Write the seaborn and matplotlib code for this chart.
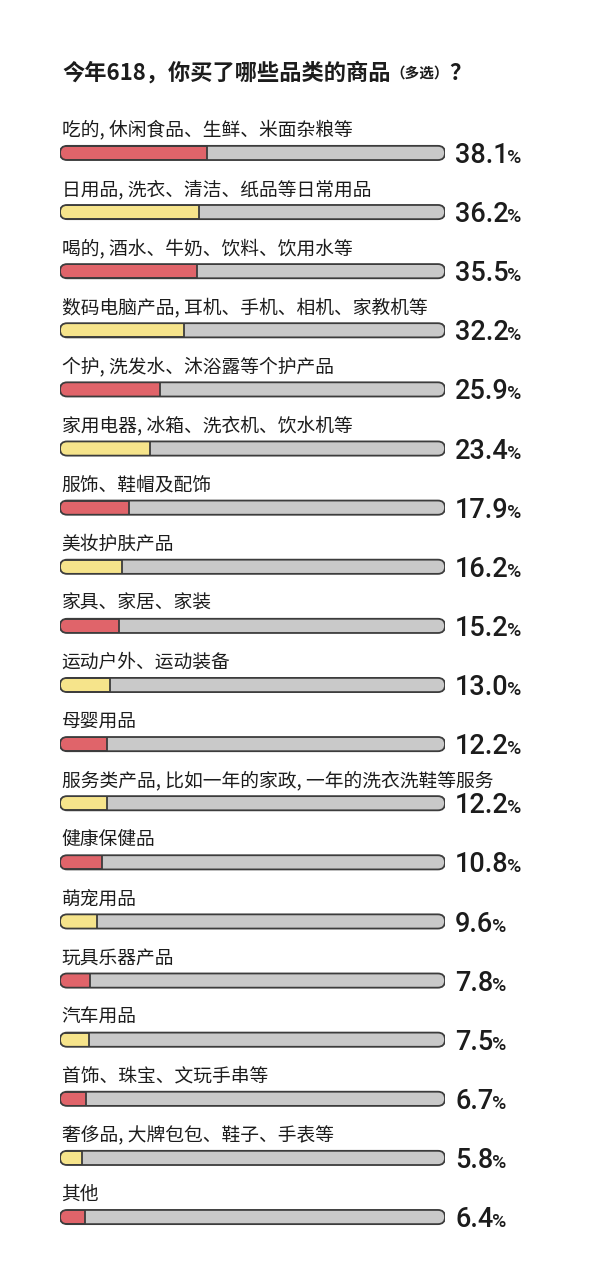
import matplotlib
matplotlib.use("Agg")
import matplotlib.pyplot as plt
from matplotlib.patches import FancyBboxPatch
import pandas as pd
import seaborn as sns

categories = [
    "吃的, 休闲食品、生鲜、米面杂粮等",
    "日用品, 洗衣、清洁、纸品等日常用品",
    "喝的, 酒水、牛奶、饮料、饮用水等",
    "数码电脑产品, 耳机、手机、相机、家教机等",
    "个护, 洗发水、沐浴露等个护产品",
    "家用电器, 冰箱、洗衣机、饮水机等",
    "服饰、鞋帽及配饰",
    "美妆护肤产品",
    "家具、家居、家装",
    "运动户外、运动装备",
    "母婴用品",
    "服务类产品, 比如一年的家政, 一年的洗衣洗鞋等服务",
    "健康保健品",
    "萌宠用品",
    "玩具乐器产品",
    "汽车用品",
    "首饰、珠宝、文玩手串等",
    "奢侈品, 大牌包包、鞋子、手表等",
    "其他",
]
shares = [38.1, 36.2, 35.5, 32.2, 25.9, 23.4, 17.9, 16.2, 15.2, 13.0,
          12.2, 12.2, 10.8, 9.6, 7.8, 7.5, 6.7, 5.8, 6.4]
tones = ["red", "yellow"] * 9 + ["red"]

RED = "#e0646a"
YELLOW = "#f6e48b"
GRAY = "#c9c9c9"
EDGE = "#3c3c3c"
INK = "#1c1c1c"

sns.set_theme(style="white")
plt.rcParams["font.family"] = ["Noto Sans CJK SC", "DejaVu Sans"]

df = pd.DataFrame({"category": categories, "share": shares, "tone": tones})
df["full"] = 100.0
n = len(df)

fig = plt.figure(figsize=(6, 12.8), dpi=100)
fig.patch.set_facecolor("white")
ax = fig.add_axes([0.1, 0.0261, 0.6417, 0.8775])

bar_h = 0.24
# grey track = 100%, coloured part = share
sns.barplot(data=df, x="full", y="category", orient="h", color=GRAY,
            width=bar_h, saturation=1, ax=ax)
tracks = list(ax.patches)
sns.barplot(data=df, x="share", y="category", hue="tone",
            palette={"red": RED, "yellow": YELLOW}, orient="h",
            width=bar_h, dodge=False, legend=False, saturation=1, ax=ax)
fills = [p for p in ax.patches if p not in tracks and p.get_width() > 0]

ax.set_xlim(0, 100)
ax.set_ylim(n - 0.5, -0.5)
ax.axis("off")

# pixel ratio so the ends come out as half circles
(px0, py0), (px1, py1) = ax.transData.transform([(0, 0), (1, 1)])
aspect = abs(px1 - px0) / abs(py1 - py0)

shapes = {}
for rect in tracks:
    x, y, w, h = rect.get_x(), rect.get_y(), rect.get_width(), rect.get_height()
    style = f"round,pad=0,rounding_size={h / aspect / 2 * 0.999}"
    shape = FancyBboxPatch((x, y), w, h, boxstyle=style, mutation_aspect=aspect,
                           fc=GRAY, ec="none", zorder=1)
    outline = FancyBboxPatch((x, y), w, h, boxstyle=style, mutation_aspect=aspect,
                             fc="none", ec=EDGE, lw=1.3, zorder=4)
    ax.add_patch(shape)
    ax.add_patch(outline)
    shapes[int(round(y + h / 2))] = shape
    rect.remove()

for rect in fills:
    row = int(round(rect.get_y() + rect.get_height() / 2))
    rect.set_edgecolor(EDGE)
    rect.set_linewidth(1.3)
    rect.set_zorder(2)
    rect.set_clip_path(shapes[row])

# labels and numbers
nums = []
for i, (cat, val) in enumerate(zip(categories, shares)):
    ax.text(0.4, i - 0.38, cat, fontsize=13.5, color=INK, ha="left", va="center")
    t = ax.text(102.6, i + 0.17, f"{val:.1f}", fontsize=19.5, family="Roboto",
                weight="medium", color=INK, ha="left", va="baseline")
    nums.append(t)

fig.canvas.draw()
inv = ax.transData.inverted()
for i, t in enumerate(nums):
    bb = t.get_window_extent()
    xr = inv.transform((bb.x1 - 1.5, 0))[0]
    ax.text(xr, i + 0.17, "%", fontsize=14, family="Roboto", weight="medium",
            color=INK, ha="left", va="baseline")

# title in three pieces
t1 = fig.text(62 / 600, 1 - 73 / 1280, "今年618，你买了哪些品类的商品",
              fontsize=16, weight="heavy", color=INK, ha="left", va="center")
t2 = fig.text(0, 0, "（多选）", fontsize=10.5, weight="heavy", color=INK,
              ha="left", va="center")
t3 = fig.text(0, 0, "？", fontsize=16, weight="heavy", color=INK,
              ha="left", va="center")
fig.canvas.draw()
finv = fig.transFigure.inverted()
b1 = t1.get_window_extent()
t2.set_position(finv.transform((b1.x1, (b1.y0 + b1.y1) / 2)))
fig.canvas.draw()
b2 = t2.get_window_extent()
t3.set_position(finv.transform((b2.x1, (b1.y0 + b1.y1) / 2)))

fig.savefig("out.png", dpi=100, facecolor="white")
